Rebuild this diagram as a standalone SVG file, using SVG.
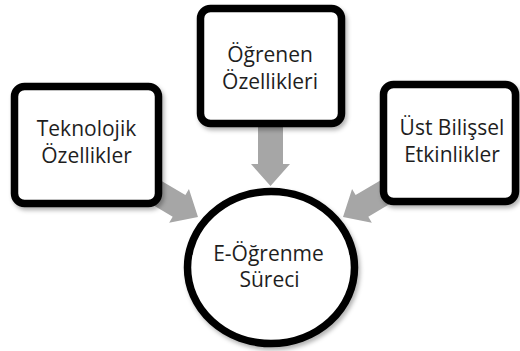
<svg xmlns="http://www.w3.org/2000/svg" width="520" height="351" viewBox="0 0 520 351">
  <defs>
    <filter id="shadow" x="-10%" y="-10%" width="125%" height="130%">
      <feDropShadow dx="2" dy="3" stdDeviation="2" flood-color="#000" flood-opacity="0.3"/>
    </filter>
    <filter id="soft" x="-10%" y="-10%" width="120%" height="120%">
      <feGaussianBlur stdDeviation="0.6"/>
    </filter>
    <!-- block arrow pointing along +x, tail at origin, tip at (60,0) -->
    <polygon id="block-arrow" points="0,-12.5 38,-12.5 38,-19.5 60,0 38,19.5 38,12.5 0,12.5"/>
  </defs>
  <style>
    .box { fill: #ffffff; stroke: #000000; stroke-width: 7.5; }
    .arrow { fill: #a6a6a6; }
    .label { font-family: "Open Sans", "Noto Sans", "DejaVu Sans", sans-serif; font-size: 21px; fill: #1e1e1e; text-anchor: middle; }
  </style>
  <rect width="520" height="351" fill="#ffffff"/>

  <g id="connectors" class="arrow" filter="url(#soft)">
    <use href="#block-arrow" transform="translate(270.5,126) rotate(90)"/>
    <use href="#block-arrow" transform="translate(146.3,186.6) rotate(30.5)"/>
    <use href="#block-arrow" transform="translate(394.7,186.6) rotate(149.5)"/>
  </g>

  <g id="teknolojik">
    <rect class="box" x="14.5" y="86.5" width="144" height="117" rx="10" filter="url(#shadow)"/>
    <text class="label" x="86.5" y="135.5">Teknolojik</text>
    <text class="label" x="86.5" y="163">Özellikler</text>
  </g>

  <g id="ogrenen">
    <rect class="box" x="200.5" y="8.5" width="141" height="115" rx="10" filter="url(#shadow)"/>
    <text class="label" x="270" y="61.5">Öğrenen</text>
    <text class="label" x="270" y="88.5">Özellikleri</text>
  </g>

  <g id="ust-bilissel">
    <rect class="box" x="383.5" y="84.5" width="132" height="117" rx="10" filter="url(#shadow)"/>
    <text class="label" x="452" y="134.5">Üst Bilişsel</text>
    <text class="label" x="452" y="162">Etkinlikler</text>
  </g>

  <g id="e-ogrenme">
    <ellipse class="box" cx="271" cy="267.5" rx="83.5" ry="76" filter="url(#shadow)"/>
    <text class="label" x="268.5" y="260.5">E-Öğrenme</text>
    <text class="label" x="269.5" y="287">Süreci</text>
  </g>
</svg>
